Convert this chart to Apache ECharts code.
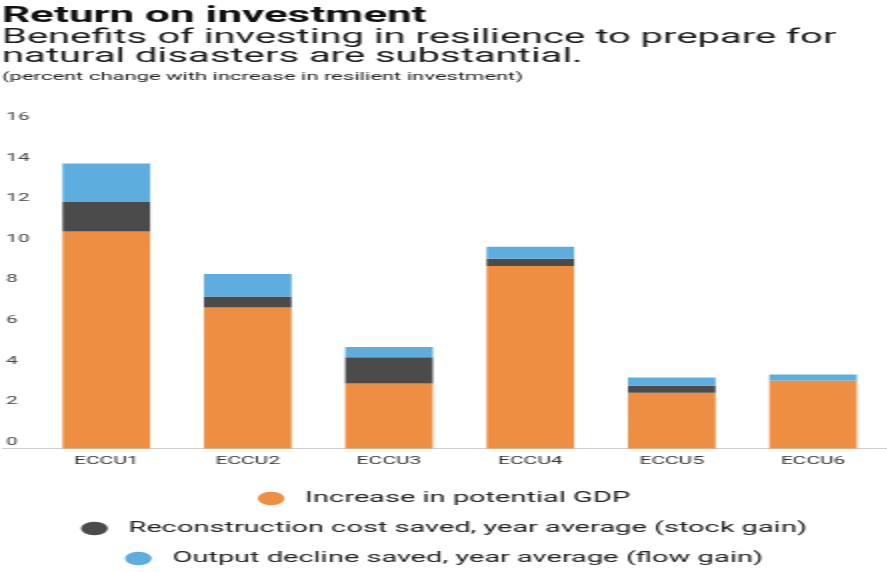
<!DOCTYPE html>
<html>
<head>
<meta charset="utf-8">
<title>Return on investment</title>
<script src="https://cdn.jsdelivr.net/npm/echarts@6/dist/echarts.min.js"></script>
<style>
  html, body { margin: 0; padding: 0; background: #ffffff; overflow: hidden; }
  /* the chart is laid out on a narrow canvas and widened 2x */
  #chart { width: 443.5px; height: 572px; transform: scaleX(2); transform-origin: 0 0; }
</style>
</head>
<body>
<div id="chart"></div>
<script>
// Categories (ECCU member groups)
const categories = ['ECCU1', 'ECCU2', 'ECCU3', 'ECCU4', 'ECCU5', 'ECCU6'];

// Stacked components, percent change
const potentialGDP   = [10.7, 6.95, 3.2, 9.0, 2.75, 3.35];
const stockGain      = [1.45, 0.55, 1.3, 0.35, 0.35, 0];
const flowGain       = [1.9, 1.1, 0.5, 0.6, 0.4, 0.3];

const seriesNames = [
  'Increase in potential GDP',
  'Reconstruction cost saved, year average (stock gain)',
  'Output decline saved, year average (flow gain)'
];

// Value axis
const yMin = 0;
const yMax = 16;
const yStep = 2;

const colors = ['#EE8E42', '#4B4B4B', '#5DADDF'];
const font = 'Roboto, "Noto Sans", sans-serif';
const ellipse = 'path://M0,1C0,0.448 0.448,0 1,0C1.552,0 2,0.448 2,1C2,1.552 1.552,2 1,2C0.448,2 0,1.552 0,1Z';

const chart = echarts.init(document.getElementById('chart'));

function legendRow(name, top) {
  return {
    data: [name],
    left: 'center',
    top: top,
    orient: 'horizontal',
    padding: 0,
    itemWidth: 15,
    itemHeight: 13.3,
    icon: ellipse,
    selectedMode: false,
    textStyle: { fontFamily: font, fontSize: 14.5, lineHeight: 15, color: '#222', padding: [0, 0, 0, 4.5] }
  };
}

chart.setOption({
  animation: false,
  color: colors,
  title: [
    {
      text: 'Return on investment',
      left: 1, top: 4.4, padding: 0,
      textStyle: { fontFamily: font, fontSize: 22, fontWeight: 'bold', lineHeight: 24, color: '#111' }
    },
    {
      text: 'Benefits of investing in resilience to prepare for\nnatural disasters are substantial.',
      left: 1, top: 27.8, padding: 0,
      textStyle: { fontFamily: font, fontSize: 20, fontWeight: 'normal', lineHeight: 19.4, color: '#1a1a1a' }
    },
    {
      text: '(percent change with increase in resilient investment)',
      left: 1, top: 70.5, padding: 0,
      textStyle: { fontFamily: font, fontSize: 11, fontWeight: 'normal', lineHeight: 13, color: '#222' }
    }
  ],
  legend: [
    legendRow(seriesNames[0], 491),
    legendRow(seriesNames[1], 521),
    legendRow(seriesNames[2], 551)
  ],
  grid: [
    { left: 16.6, right: 2.1, top: 124, bottom: 123.5 },
    { left: 1.5, right: 0, top: 124, bottom: 123.5 }
  ],
  xAxis: [
    {
      type: 'category', gridIndex: 0, data: categories,
      axisLine: { show: false }, axisTick: { show: false },
      axisLabel: { fontFamily: font, fontSize: 10.5, lineHeight: 13, color: '#333', margin: 6 }
    },
    {
      type: 'value', gridIndex: 1, min: 0, max: 1,
      axisLine: { show: true, lineStyle: { color: '#cfcfcf', width: 1 } },
      axisTick: { show: false }, axisLabel: { show: false }, splitLine: { show: false }
    }
  ],
  yAxis: [
    {
      type: 'value', gridIndex: 0, min: yMin, max: yMax, interval: yStep,
      axisLine: { show: false }, axisTick: { show: false }, splitLine: { show: false },
      axisLabel: {
        fontFamily: font, fontSize: 10.5, lineHeight: 13, color: '#444',
        align: 'left', verticalAlign: 'bottom', margin: 14.85
      }
    },
    {
      type: 'value', gridIndex: 1, min: yMin, max: yMax, show: false
    }
  ],
  series: [
    { name: seriesNames[0], type: 'bar', stack: 'roi', data: potentialGDP, barWidth: '62%', xAxisIndex: 0, yAxisIndex: 0 },
    { name: seriesNames[1], type: 'bar', stack: 'roi', data: stockGain, barWidth: '62%', xAxisIndex: 0, yAxisIndex: 0 },
    { name: seriesNames[2], type: 'bar', stack: 'roi', data: flowGain, barWidth: '62%', xAxisIndex: 0, yAxisIndex: 0 }
  ]
});
</script>
</body>
</html>
